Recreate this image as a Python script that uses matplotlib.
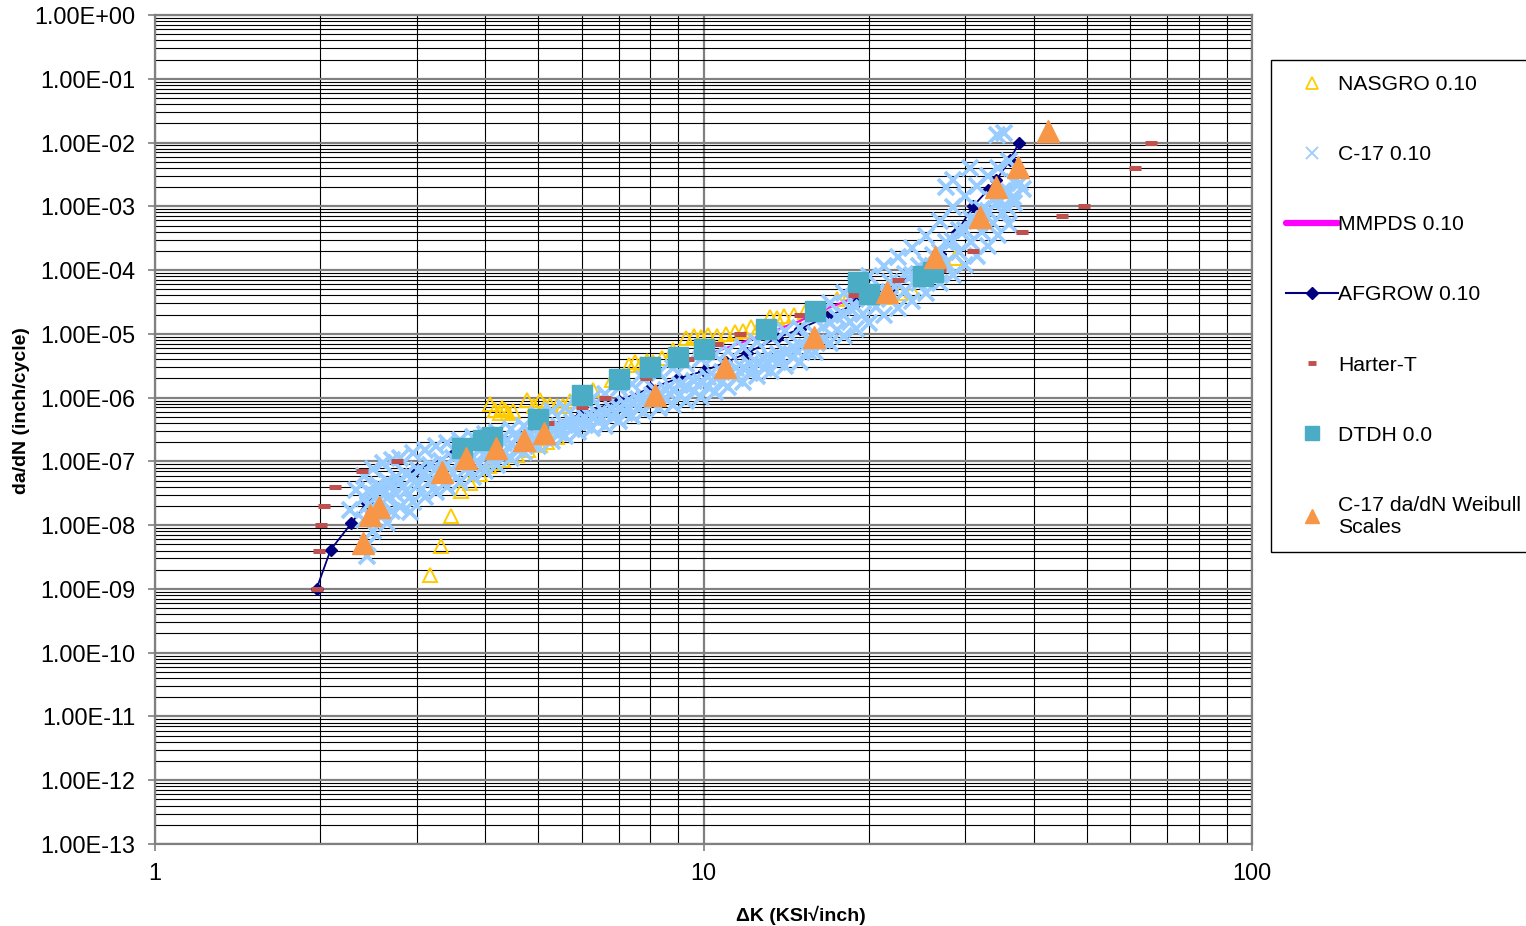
import matplotlib
matplotlib.use("Agg")
import matplotlib.pyplot as plt
from matplotlib.lines import Line2D
from matplotlib.ticker import FuncFormatter, LogLocator, NullFormatter

plt.rcParams["font.family"] = ["Liberation Sans", "DejaVu Sans"]

# ---- data (dK in ksi*sqrt(in), da/dN in inch/cycle) ----
nasgro_dk = [3.17, 3.32, 3.46, 3.62, 3.76, 3.91, 4.06, 4.12, 4.31, 4.57, 4.79, 5.03, 5.18, 5.41,
             4.08, 4.16, 4.25, 4.3, 4.35, 4.4, 4.5, 4.77, 4.9, 5.03, 5.15, 5.25, 5.4, 5.54, 5.7,
             5.85, 6.0, 6.3, 6.8, 7.3, 7.5, 7.7, 7.9, 8.1, 8.4, 8.8, 9.3, 9.6, 9.9, 10.2, 10.6,
             11.0, 11.4, 11.8, 12.2, 12.6, 13.2, 13.6, 14.0, 14.6, 15.3, 16.5, 17.5, 18.5, 21.6,
             22.8, 24.0, 27.7, 28.7]
nasgro_rate = [1.66e-9, 4.7e-9, 1.4e-8, 3.4e-8, 4.65e-8, 6.3e-8, 8.5e-8, 9.4e-8, 1.05e-7,
               1.26e-7, 1.5e-7, 1.8e-7, 2.0e-7, 2.4e-7,
               7.9e-7, 6.4e-7, 5.8e-7, 6.8e-7, 6.4e-7, 5.8e-7, 6.2e-7, 9.2e-7, 7.5e-7, 9.2e-7,
               7.3e-7, 7.7e-7, 7.3e-7, 7.3e-7, 9.0e-7, 1.0e-6, 1.1e-6, 1.3e-6, 1.9e-6, 3.3e-6,
               3.6e-6, 3.4e-6, 3.7e-6, 3.6e-6, 4.2e-6, 5.5e-6, 8.5e-6, 9.2e-6, 8.8e-6, 9.5e-6,
               9.3e-6, 1.0e-5, 1.05e-5, 1.1e-5, 1.26e-5, 1.3e-5, 1.85e-5, 1.8e-5, 1.9e-5, 2.0e-5,
               2.2e-5, 2.4e-5, 3.5e-5, 4.4e-5, 3.8e-5, 4.4e-5, 4.9e-5, 1.3e-4, 1.55e-4]

# C-17 0.10 scatter: a dense band, read as five strands plus stray points
c17_dk = [2.4, 2.5, 2.6, 2.7, 2.8, 2.95, 3.1, 3.25, 3.4, 3.6, 3.8, 4.0, 4.2, 4.45, 4.7, 5.0,
          5.3, 5.6, 5.9, 6.25, 6.6, 7.0, 7.4, 7.8, 8.3, 8.8, 9.3, 9.9, 10.5, 11.1, 11.8, 12.5,
          13.3, 14.1, 15, 16, 17, 18, 19, 20, 21.3, 22.6, 24, 25.5, 27, 28.5, 30, 31.5, 33,
          34.5, 36]
c17_dk_alt = [2.45, 2.55, 2.65, 2.75, 2.87, 3.02, 3.17, 3.32, 3.5, 3.7, 3.9, 4.1, 4.32, 4.57,
              4.85, 5.15, 5.45, 5.75, 6.07, 6.42, 6.8, 7.2, 7.6, 8.05, 8.55, 9.05, 9.6, 10.2,
              10.8, 11.45, 12.15, 12.9, 13.7, 14.55, 15.5, 16.5, 17.5, 18.5, 19.5, 20.6, 21.9,
              23.3, 24.7, 26.2, 27.7, 29.2, 30.7, 32.2, 33.7, 35.2, 36.8]
c17_top = [5.9e-8, 7.5e-8, 9.3e-8, 1.04e-7, 1.15e-7, 1.34e-7, 1.52e-7, 1.72e-7, 1.92e-7,
           2.15e-7, 2.4e-7, 2.65e-7, 2.9e-7, 3.2e-7, 3.6e-7, 5.3e-7, 6.1e-7, 6.9e-7, 7.9e-7,
           9.6e-7, 1.14e-6, 1.4e-6, 1.65e-6, 1.95e-6, 2.4e-6, 2.9e-6, 3.4e-6, 4.0e-6,
           4.6e-6, 5.4e-6, 6.3e-6, 7.4e-6, 8.8e-6, 1.1e-5, 1.24e-5, 1.99e-5, 3.05e-5, 4.3e-5,
           5.9e-5, 8.1e-5, 1.15e-4, 1.59e-4, 2.2e-4, 3.4e-4, 5.8e-4, 9.6e-4, 1.47e-3, 2.1e-3,
           2.95e-3, 3.97e-3, 5.1e-3]
c17_upper = [3.47e-8, 4.2e-8, 5.0e-8, 5.7e-8, 6.3e-8, 7.4e-8, 8.7e-8, 1.0e-7, 1.13e-7, 1.3e-7,
             1.49e-7, 1.7e-7, 1.94e-7, 2.25e-7, 2.6e-7, 3.1e-7, 3.6e-7, 4.1e-7, 4.8e-7, 5.6e-7,
             6.6e-7, 7.9e-7, 9.4e-7, 1.1e-6, 1.33e-6, 1.58e-6, 1.8e-6, 2.1e-6, 2.5e-6, 2.9e-6,
             3.4e-6, 4.1e-6, 4.85e-6, 6.2e-6, 8.2e-6, 1.27e-5, 1.87e-5, 2.57e-5, 3.5e-5, 4.6e-5,
             6.4e-5, 8.6e-5, 1.17e-4, 1.73e-4, 2.75e-4, 4.3e-4, 6.3e-4, 9.0e-4, 1.27e-3,
             1.76e-3, 2.4e-3]
c17_mid = [2.67e-8, 3.1e-8, 3.67e-8, 4.2e-8, 4.7e-8, 5.6e-8, 6.5e-8, 7.6e-8, 8.7e-8, 1.0e-7,
           1.17e-7, 1.37e-7, 1.59e-7, 1.89e-7, 2.23e-7, 2.69e-7, 3.16e-7, 3.66e-7, 4.2e-7,
           4.9e-7, 5.7e-7, 6.8e-7, 8.1e-7, 9.5e-7, 1.12e-6, 1.32e-6, 1.51e-6, 1.77e-6, 2.08e-6,
           2.44e-6, 2.91e-6, 3.46e-6, 4.17e-6, 5.2e-6, 6.7e-6, 1.01e-5, 1.47e-5, 1.99e-5,
           2.65e-5, 3.48e-5, 4.7e-5, 6.3e-5, 8.5e-5, 1.23e-4, 1.9e-4, 2.85e-4, 4.2e-4, 5.9e-4,
           8.3e-4, 1.18e-3, 1.66e-3]
c17_lower = [2.05e-8, 2.35e-8, 2.7e-8, 3.05e-8, 3.47e-8, 4.2e-8, 4.9e-8, 5.8e-8, 6.6e-8, 7.8e-8,
             9.2e-8, 1.1e-7, 1.3e-7, 1.59e-7, 1.9e-7, 2.3e-7, 2.76e-7, 3.2e-7, 3.7e-7, 4.3e-7,
             4.9e-7, 5.8e-7, 6.9e-7, 8.1e-7, 9.5e-7, 1.1e-6, 1.26e-6, 1.48e-6, 1.74e-6, 2.06e-6,
             2.47e-6, 2.96e-6, 3.6e-6, 4.4e-6, 5.4e-6, 8.1e-6, 1.15e-5, 1.54e-5, 2.02e-5,
             2.63e-5, 3.54e-5, 4.7e-5, 6.2e-5, 8.7e-5, 1.31e-4, 1.9e-4, 2.73e-4, 3.9e-4, 5.5e-4,
             7.8e-4, 1.14e-3]
c17_bottom = [1.2e-8, 1.3e-8, 1.44e-8, 1.66e-8, 1.9e-8, 2.3e-8, 2.8e-8, 3.3e-8, 3.9e-8, 4.75e-8,
              5.7e-8, 7.1e-8, 8.8e-8, 1.11e-7, 1.38e-7, 1.76e-7, 2.1e-7, 2.5e-7, 2.9e-7, 3.3e-7,
              3.6e-7, 4.3e-7, 5.1e-7, 5.9e-7, 6.8e-7, 7.7e-7, 8.8e-7, 1.03e-6, 1.22e-6, 1.46e-6,
              1.76e-6, 2.15e-6, 2.65e-6, 3.1e-6, 3.6e-6, 5.1e-6, 7.1e-6, 9.2e-6, 1.18e-5, 1.5e-5,
              1.96e-5, 2.53e-5, 3.3e-5, 4.45e-5, 6.2e-5, 8.5e-5, 1.18e-4, 1.68e-4, 2.35e-4,
              3.5e-4, 5.35e-4]
c17_stray_dk = [2.27, 2.33, 2.43, 2.45, 2.5, 2.65, 2.92, 27.7, 28.5, 30.6, 34.3, 35.3, 35.8,
                36.7, 37.8, 38.3]
c17_stray_rate = [1.7e-8, 3.5e-8, 3.3e-9, 5e-9, 8e-9, 1.1e-8, 1.6e-8, 2.0e-3, 2.6e-3, 4.0e-3,
                  1.3e-2, 1.4e-2, 9.8e-4, 1.4e-3, 2.3e-3, 1.9e-3]

mmpds_dk = [10, 11.3, 13, 15, 17, 19, 21]
mmpds_rate = [4.5e-6, 6.5e-6, 1.0e-5, 1.6e-5, 2.6e-5, 3.8e-5, 5.0e-5]

afgrow_dk = [1.97, 2.09, 2.28, 2.43, 2.7, 3.0, 3.5, 4.0, 5.0, 6.0, 7.0, 8.0, 9.0, 10.0, 11.0,
             12.0, 13.6, 15.0, 16.8, 19.0, 22.0, 25.0, 27.0, 29.0, 31.0, 33.0, 34.2, 36.2, 37.6]
afgrow_rate = [1.0e-9, 4.1e-9, 1.07e-8, 2.2e-8, 4.5e-8, 7.5e-8, 1.3e-7, 1.9e-7, 3.3e-7, 5.5e-7,
               9e-7, 1.4e-6, 2.0e-6, 2.6e-6, 3.6e-6, 5.0e-6, 8.6e-6, 1.2e-5, 1.85e-5, 3.0e-5,
               5.5e-5, 1.0e-4, 1.8e-4, 4.0e-4, 1.0e-3, 1.8e-3, 2.6e-3, 5.3e-3, 1.0e-2]

harter_dk = [1.97, 1.99, 2.01, 2.03, 2.13, 2.38, 2.76, 3.78, 5.2, 6.0, 6.62, 7.87, 9.37, 10.6,
             11.65, 15.0, 18.8, 22.6, 27.0, 31.0, 38.1, 45.0, 49.4, 61.2, 65.5]
harter_rate = [1e-9, 4e-9, 1e-8, 2e-8, 4e-8, 7e-8, 1e-7, 2e-7, 4e-7, 7e-7, 1e-6, 2e-6, 4e-6,
               7e-6, 1e-5, 2e-5, 4e-5, 7e-5, 1e-4, 2e-4, 4e-4, 7e-4, 1e-3, 4e-3, 1e-2]

dtdh_dk = [3.63, 3.97, 4.11, 5.0, 6.0, 7.0, 8.0, 9.0, 10.0, 13.0, 16.0, 19.1, 20.0, 25.1, 26.2]
dtdh_rate = [1.6e-7, 2.15e-7, 2.4e-7, 4.6e-7, 1.1e-6, 1.95e-6, 3.05e-6, 4.4e-6, 5.8e-6,
             1.2e-5, 2.3e-5, 6.6e-5, 4.2e-5, 8.1e-5, 9.4e-5]

weibull_dk = [2.39, 2.47, 2.56, 3.33, 3.69, 4.18, 4.71, 5.12, 8.17, 10.96, 15.9, 21.6, 26.4,
              31.9, 34.2, 37.5, 42.5]
weibull_rate = [5.2e-9, 1.44e-8, 1.9e-8, 6.7e-8, 1.12e-7, 1.6e-7, 2.2e-7, 2.75e-7, 1.1e-6,
                3.05e-6, 8.9e-6, 4.6e-5, 1.62e-4, 6.7e-4, 2.0e-3, 4.1e-3, 1.54e-2]

series_labels = ["NASGRO 0.10", "C-17 0.10", "MMPDS 0.10", "AFGROW 0.10", "Harter-T",
                 "DTDH 0.0", "C-17 da/dN Weibull\nScales"]

# ---- colours ----
YELLOW = "#FFCC00"
LIGHT_BLUE = "#99CCFF"
MAGENTA = "#FF00FF"
NAVY = "#000080"
BRICK = "#C0504D"
TEAL = "#4BACC6"
ORANGE = "#F79646"

W, H = 1526, 926
fig = plt.figure(figsize=(W / 100, H / 100), dpi=100)
ax = fig.add_axes([155 / W, 1 - 844 / H, (1252 - 155) / W, (844 - 15) / H])
ax.set_xscale("log")
ax.set_yscale("log")

ax.plot(nasgro_dk, nasgro_rate, ls="none", marker="^", ms=10, mfc="none", mec=YELLOW,
        mew=1.4, zorder=2)
ax.plot(mmpds_dk, mmpds_rate, color=MAGENTA, lw=1.5, zorder=2.1)
ax.plot(afgrow_dk, afgrow_rate, color=NAVY, lw=1.3, marker="D", ms=6, zorder=2.2)
strands = [(c17_dk, c17_top), (c17_dk_alt, c17_upper), (c17_dk, c17_mid),
           (c17_dk_alt, c17_lower), (c17_dk, c17_bottom), (c17_stray_dk, c17_stray_rate)]
for dk, rate in strands:
    ax.plot(dk, rate, ls="none", marker="x", ms=12, mew=2.7, color=LIGHT_BLUE, zorder=3)
ax.plot(harter_dk, harter_rate, ls="none", marker="_", ms=9, mew=3.6, color=BRICK, zorder=4)
ax.plot(dtdh_dk, dtdh_rate, ls="none", marker="s", ms=14, color=TEAL, mec=TEAL, zorder=5)
ax.plot(weibull_dk, weibull_rate, ls="none", marker="^", ms=15.5, color=ORANGE, mec=ORANGE,
        zorder=6)

ax.set_xlim(1, 100)
ax.set_ylim(1e-13, 1)
ax.xaxis.set_major_locator(LogLocator(base=10, numticks=10))
ax.xaxis.set_minor_locator(LogLocator(base=10, subs=range(2, 10), numticks=50))
ax.yaxis.set_major_locator(LogLocator(base=10, numticks=30))
ax.yaxis.set_minor_locator(LogLocator(base=10, subs=range(2, 10), numticks=200))
ax.xaxis.set_major_formatter(FuncFormatter(lambda v, p: f"{v:g}"))
ax.yaxis.set_major_formatter(FuncFormatter(lambda v, p: f"{v:.2E}"))
ax.xaxis.set_minor_formatter(NullFormatter())
ax.yaxis.set_minor_formatter(NullFormatter())

ax.set_axisbelow(True)
ax.grid(which="major", color="#808080", lw=1.6)
ax.grid(which="minor", color="black", lw=0.8)
for s in ax.spines.values():
    s.set_color("#808080")
    s.set_linewidth(1.6)
ax.tick_params(which="major", direction="out", length=5, width=1.2, color="#808080",
               labelsize=16.8)
ax.tick_params(axis="y", which="major", pad=9)
ax.tick_params(axis="x", which="major", pad=8)
ax.tick_params(which="minor", length=0)

fig.text(801 / W, 1 - 915 / H, "\u0394K (KSI\u221Ainch)", ha="center", va="center",
         fontsize=14, fontweight="bold")
fig.text(22 / W, 1 - 411 / H, "da/dN (inch/cycle)", ha="center", va="center",
         rotation=90, fontsize=14, fontweight="bold")

handles = [
    Line2D([], [], ls="none", marker="^", ms=8, mfc="none", mec=YELLOW, mew=1.3),
    Line2D([], [], ls="none", marker="x", ms=8, mew=1.3, color=LIGHT_BLUE),
    Line2D([], [], color=MAGENTA, lw=4.5, solid_capstyle="round"),
    Line2D([], [], color=NAVY, lw=1.5, marker="D", ms=6),
    Line2D([], [], ls="none", marker="_", ms=6, mew=3.5, color=BRICK),
    Line2D([], [], ls="none", marker="s", ms=10, color=TEAL),
    Line2D([], [], ls="none", marker="^", ms=10, color=ORANGE),
]
leg = fig.legend(handles, series_labels, loc="upper left",
                 bbox_to_anchor=(1271 / W, 1 - 60 / H), bbox_transform=fig.transFigure,
                 fontsize=15.2, frameon=True, fancybox=False, edgecolor="black", framealpha=1,
                 labelspacing=2.42, handlelength=2.45, handletextpad=0.0, borderpad=0.72,
                 borderaxespad=0)
leg.get_frame().set_linewidth(1.0)

fig.savefig("out.png", dpi=100)
